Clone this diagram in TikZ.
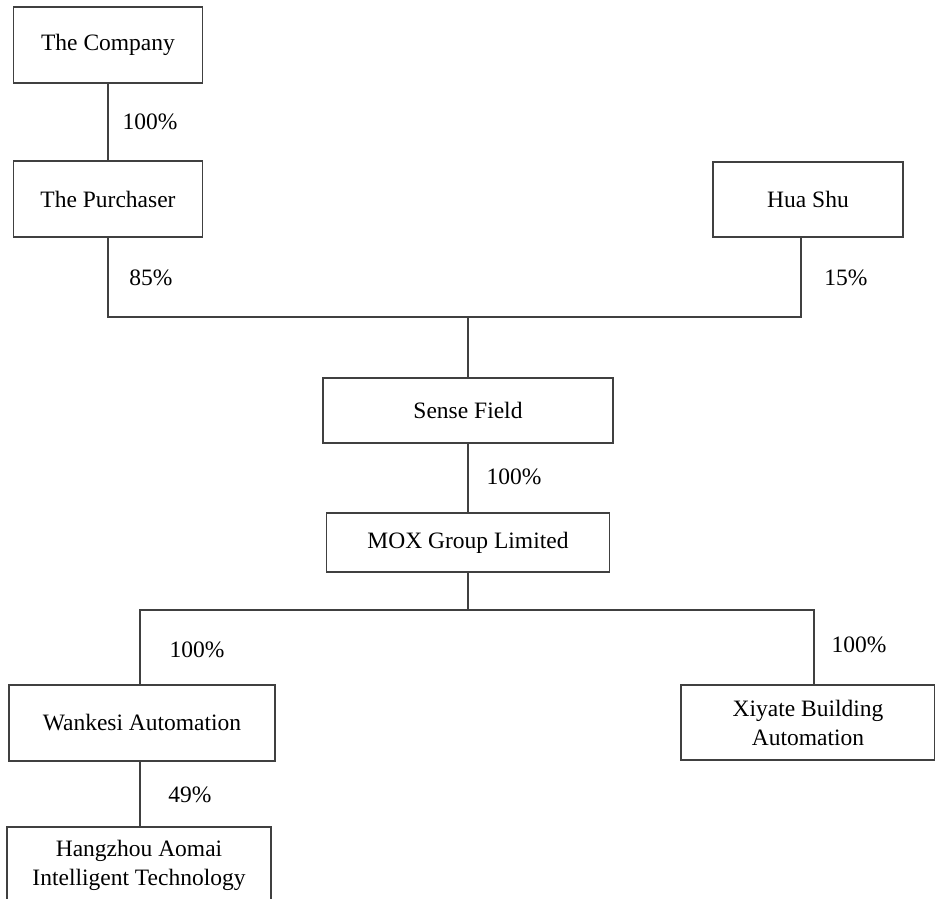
\documentclass[tikz,border=0pt]{standalone}
\usepackage{fontspec}
\setmainfont{Liberation Serif}
\usetikzlibrary{positioning}
\tikzset{
  orgbox/.style={draw=black!75, line width=1.3pt, rectangle, align=center,
    inner sep=0pt, font=\fontsize{23.5}{29}\selectfont},
  pct/.style={inner sep=0pt, font=\fontsize{23.5}{29}\selectfont},
  link/.style={draw=black!75, line width=1.3pt}
}
\begin{document}
\begin{tikzpicture}[x=1pt,y=-1pt]
  \clip (0,0) rectangle (935,899);
  %% the holding chain
  \node[orgbox, minimum width=189, minimum height=76] (company) at (108,45) {The Company};
  \node[orgbox, minimum width=189, minimum height=76] (purchaser) at (108,199) {The Purchaser};
  \node[orgbox, minimum width=190, minimum height=75] (huashu) at (808,199.5) {Hua Shu};
  \node[orgbox, minimum width=290, minimum height=65] (sense) at (468,410.5) {Sense Field};
  \node[orgbox, minimum width=283, minimum height=59] (mox) at (468,542.5) {MOX Group Limited};
  \node[orgbox, minimum width=266, minimum height=76] (wankesi) at (142,723) {Wankesi Automation};
  \node[orgbox, minimum width=254, minimum height=75] (xiyate) at (808,722.5) {Xiyate Building\\Automation};
  \node[orgbox, minimum width=264, minimum height=76] (hangzhou) at (139,865) {Hangzhou Aomai\\Intelligent Technology};

  %% connectors
  \coordinate (bus1) at (468,317);
  \coordinate (bus2) at (468,610);
  \draw[link] (company) -- (purchaser);
  \draw[link] (purchaser.south) |- (bus1) -| ([xshift=-7pt]huashu.south);
  \draw[link] (bus1) -- (sense.north);
  \draw[link] (sense) -- (mox);
  \draw[link] (mox.south) -- (bus2);
  \draw[link] ([xshift=-2pt]wankesi.north) |- (bus2) -| ([xshift=6pt]xiyate.north);
  \draw[link] ([xshift=-2pt]wankesi.south) -- ([xshift=-2pt]wankesi.south |- hangzhou.north);

  %% shares
  \node[pct] (p1) at (150,122) {100\%};
  \node[pct] (p2) at (151,278) {85\%};
  \node[pct] (p3) at (846,278) {15\%};
  \node[pct] (p4) at (514,477) {100\%};
  \node[pct] (p5) at (197,650) {100\%};
  \node[pct] (p6) at (859,645) {100\%};
  \node[pct] (p7) at (190,795) {49\%};
\end{tikzpicture}
\end{document}
